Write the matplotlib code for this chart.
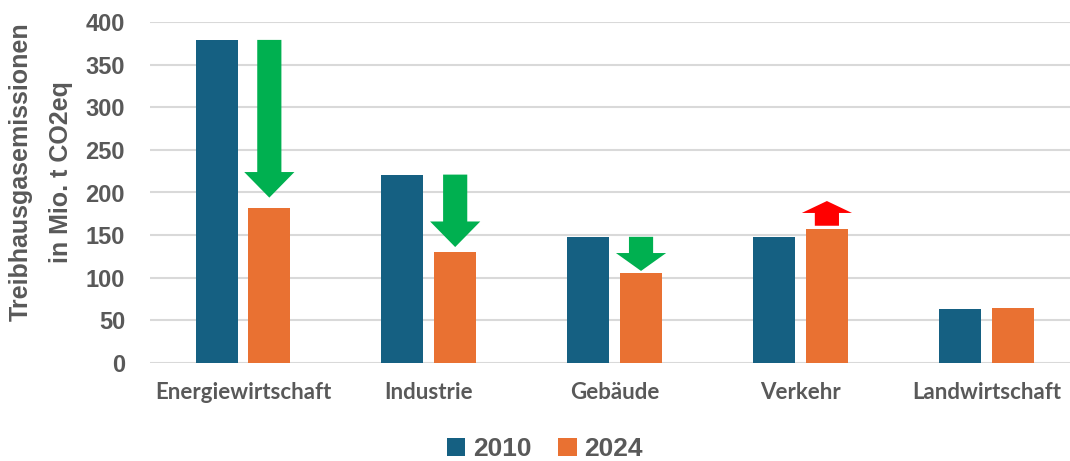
import matplotlib.pyplot as plt
from matplotlib.patches import FancyArrow
import numpy as np

sectors = ["Energiewirtschaft", "Industrie", "Gebäude", "Verkehr", "Landwirtschaft"]
years = ["2010", "2024"]
em_2010 = [379, 221, 148, 148, 63]
em_2024 = [182, 130, 105, 157, 64]

# change arrows over the 2024 bars: (sector index, start, end, colour)
arrows = [
    (0, 379, 194, "#00b050"),
    (1, 221, 136, "#00b050"),
    (2, 148, 108, "#00b050"),
    (3, 161, 190, "#ff0000"),
]

c2010 = "#156082"
c2024 = "#e97132"
grey = "#595959"

fig = plt.figure(figsize=(10.7, 4.61), dpi=100)
ax = fig.add_axes([150 / 1070, 1 - 363 / 461, 920 / 1070, 341 / 461])

x = np.arange(len(sectors))
w = 0.226
off = 0.142
ax.bar(x - off, em_2010, w, color=c2010, label=years[0], zorder=3)
ax.bar(x + off, em_2024, w, color=c2024, label=years[1], zorder=3)

for i, y0, y1, col in arrows:
    length = y1 - y0
    hl = min(abs(length) * 0.5, 30)
    if abs(length) < 60:
        hl = 14 if length > 0 else 21
    ax.add_patch(FancyArrow(x[i] + off, y0, 0, length, width=0.13, head_width=0.27,
                            head_length=hl, length_includes_head=True,
                            color=col, lw=0, zorder=4))

ax.set_xlim(-0.5, 4.45)
ax.set_ylim(0, 400)
ax.set_yticks(range(0, 401, 50))
ax.set_xticks(x)
ax.set_xticklabels(sectors, fontsize=16, fontweight="bold", color=grey, family="Lato")
ax.tick_params(axis="x", length=0, pad=14)
ax.tick_params(axis="y", length=0, pad=18, labelsize=17, labelcolor=grey)
for t in ax.get_yticklabels():
    t.set_fontweight("bold")
    t.set_family("Liberation Sans")
ax.grid(axis="y", color="#d9d9d9", lw=1.5, zorder=0)
for s in ax.spines.values():
    s.set_visible(False)

fig.text(41 / 1070, 1 - 172 / 461, "Treibhausgasemissionen\nin Mio. t CO2eq", rotation=90,
         ha="center", va="center", fontsize=18, fontweight="bold", color=grey,
         family="Liberation Sans", linespacing=1.85)

ax.legend(loc="center", bbox_to_anchor=(545 / 1070, 1 - 449 / 461),
          bbox_transform=fig.transFigure, ncol=2, frameon=False,
          handlelength=0.7, handleheight=0.7, handletextpad=0.3, columnspacing=1.0,
          prop={"family": "Liberation Sans", "weight": "bold", "size": 19},
          labelcolor=grey)

fig.savefig("out.png", dpi=100)
